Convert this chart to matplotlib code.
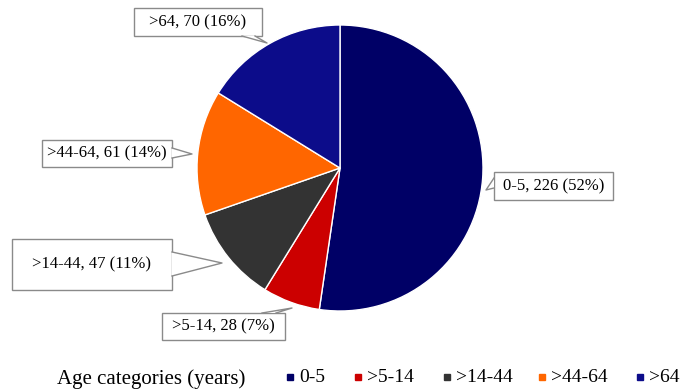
import matplotlib.pyplot as plt
from matplotlib.patches import Rectangle, Polygon

categories = ['0-5', '>5-14', '>14-44', '>44-64', '>64']
counts = [226, 28, 47, 61, 70]
percents = [52, 7, 11, 14, 16]
colors = ['#000066', '#cc0000', '#333333', '#ff6600', '#0c0c8a']

plt.rcParams['font.family'] = 'Liberation Serif'

H = 389
fig = plt.figure(figsize=(6.8, 3.89), dpi=100)
ax = fig.add_axes([0, 0, 1, 1])

cx, cy, r = 340, H - 168, 143
ax.pie(counts, colors=colors, startangle=90, counterclock=False,
       center=(cx, cy), radius=r, frame=True,
       wedgeprops=dict(edgecolor='white', linewidth=1))
ax.set_xlim(0, 680)
ax.set_ylim(0, H)
ax.set_aspect('equal')
ax.axis('off')

# callout boxes (x0, y0, x1, y1 in px from top) and pointer (base1, tip, base2)
boxes = [(494, 172, 613, 200), (162, 313, 285, 340), (12, 239, 172, 290),
         (42, 140, 172, 167), (134, 8, 262, 36)]
pointers = [((494, 178), (486, 190), (494, 188)),
            ((262, 313), (292, 308), (276, 313)),
            ((172, 252), (222, 263), (172, 276)),
            ((172, 148), (192, 154), (172, 158)),
            ((242, 36), (267, 43), (255, 36))]

edge = '#8a8a8a'
for cat, n, p, (x0, y0, x1, y1), (b1, tip, b2) in zip(categories, counts, percents,
                                                      boxes, pointers):
    ax.add_patch(Rectangle((x0, H - y1), x1 - x0, y1 - y0, fc='white', ec=edge,
                           lw=1, zorder=3))
    pts = [(b1[0], H - b1[1]), (tip[0], H - tip[1]), (b2[0], H - b2[1])]
    ax.add_patch(Polygon(pts, closed=True, fc='white', ec='none', zorder=4))
    ax.plot([q[0] for q in pts], [q[1] for q in pts], color=edge, lw=1, zorder=5)
    ax.text((x0 + x1) / 2, H - (y0 + y1) / 2, f'{cat}, {n} ({p}%)',
            ha='center', va='center', fontsize=12, zorder=6)

# legend row
ax.text(57, H - 379, 'Age categories (years)', fontsize=15, va='center')
legend_x = [290, 358, 447, 542, 640]
for lx, cat, c in zip(legend_x, categories, colors):
    ax.plot(lx, H - 377, marker='s', ls='', color=c, markersize=4.5, clip_on=False)
    ax.text(lx + 9, H - 378, cat, fontsize=14, va='center', ha='left')

fig.savefig('out.png', dpi=100)
